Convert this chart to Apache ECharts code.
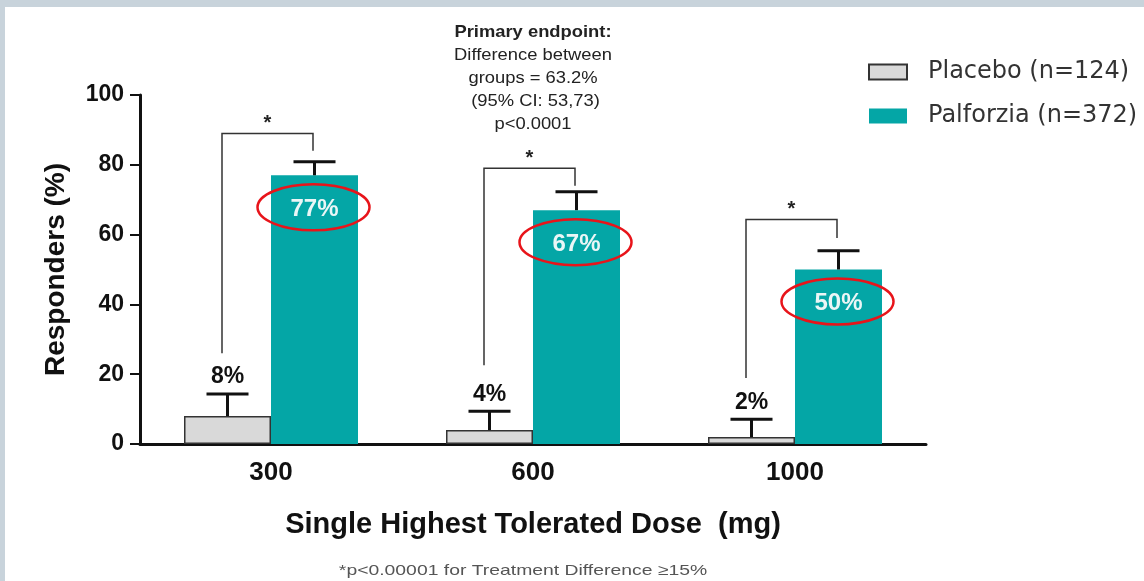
<!DOCTYPE html>
<html><head><meta charset="utf-8">
<script src="https://cdn.jsdelivr.net/npm/echarts@6/dist/echarts.min.js"></script>
<style>html,body{margin:0;padding:0;background:#fff;}#c{width:1144px;height:581px;}</style>
</head><body><div id="c"></div>
<script>
const categories = ['300', '600', '1000'];
const placebo = [8, 4, 2];
const palforzia = [77, 67, 50];
const placeboErrTop = [14.3, 9.4, 7.1];
const palforziaErrTop = [80.9, 72.3, 55.4];
const bracketLeftStart = [26, 22.6, 18.9];
const bracketTop = [89, 79, 64.3];
const bracketRightEnd = [84, 74, 59];
const yTicks = [0, 20, 40, 60, 80, 100];

const BAR_W = 87;
const FONT = 'Liberation Sans, Arial, sans-serif';

const chart = echarts.init(document.getElementById('c'));

function errData() {
  const d = [];
  categories.forEach((c, i) => {
    d.push([i, placebo[i], placeboErrTop[i], -1, placebo[i] + '%']);
    d.push([i, palforzia[i], palforziaErrTop[i], 1, palforzia[i] + '%']);
  });
  return d;
}

const option = {
  backgroundColor: '#fff',
  animation: false,
  textStyle: { fontFamily: FONT },
  grid: { left: 140, right: 218, top: 95, bottom: 137, containLabel: false },
  legend: {
    orient: 'vertical', left: 863, top: 52, itemWidth: 38, itemHeight: 15, itemGap: 14,
    icon: 'rect',
    textStyle: { fontSize: 24, lineHeight: 30, color: '#333', fontFamily: 'DejaVu Sans', padding: [0, 0, 0, 16] },
    data: ['Placebo (n=124)', 'Palforzia (n=372)']
  },
  xAxis: {
    type: 'category', data: categories,
    axisLine: { lineStyle: { color: '#111', width: 3 } },
    axisTick: { alignWithLabel: true, length: 10, lineStyle: { color: '#111', width: 2 } },
    axisLabel: { fontSize: 26, fontWeight: 'bold', color: '#111', margin: 16 },
    name: 'Single Highest Tolerated Dose  (mg)', nameLocation: 'middle', nameGap: 66,
    nameTextStyle: { fontSize: 29, fontWeight: 'bold', color: '#111' }
  },
  yAxis: {
    type: 'value', min: 0, max: 100, interval: 20,
    axisLine: { show: true, lineStyle: { color: '#111', width: 3 } },
    axisTick: { show: true, length: 10, lineStyle: { color: '#111', width: 2 } },
    splitLine: { show: false },
    axisLabel: { fontSize: 23, fontWeight: 'bold', color: '#111', margin: 16,
      formatter: v => yTicks.includes(v) ? String(v) : '' },
    name: 'Responders (%)', nameLocation: 'middle', nameGap: 70, nameRotate: 90,
    nameTextStyle: { fontSize: 28, fontWeight: 'bold', color: '#111' }
  },
  series: [
    {
      name: 'Placebo (n=124)', type: 'bar', data: placebo, barWidth: BAR_W, barGap: '0%',
      itemStyle: { color: '#d9d9d9', borderColor: '#333', borderWidth: 1.5 }, z: 2
    },
    {
      name: 'Palforzia (n=372)', type: 'bar', data: palforzia, barWidth: BAR_W, barGap: '0%',
      itemStyle: { color: '#04a6a6' }, z: 2,
      label: { show: true, position: 'insideTop', distance: 22, formatter: '{c}%',
        color: '#eaf6f6', fontSize: 24, fontWeight: 'bold', fontFamily: FONT }
    },
    {
      type: 'custom', data: errData(), z: 5,
      renderItem: function (params, api) {
        const i = api.value(0), side = api.value(3);
        const c = api.coord([i, 0]);
        const x = c[0] + side * BAR_W / 2;
        const yTop = api.coord([i, api.value(1)])[1];
        const yErr = api.coord([i, api.value(2)])[1];
        const ch = [
          { type: 'line', shape: { x1: x, y1: yTop, x2: x, y2: yErr }, style: { stroke: '#111', lineWidth: 3 } },
          { type: 'line', shape: { x1: x - 21, y1: yErr, x2: x + 21, y2: yErr }, style: { stroke: '#111', lineWidth: 3 } }
        ];
        if (side < 0) {
          ch.push({ type: 'text', style: { text: api.value(4), x: x, y: yErr - 17, align: 'center', verticalAlign: 'middle',
            font: 'bold 23px ' + FONT, fill: '#111' } });
        } else {
          ch.push({ type: 'ellipse', shape: { cx: x - 1, cy: yTop + 32, rx: 56, ry: 23 },
            style: { fill: 'none', stroke: '#e8141a', lineWidth: 2.5 } });
        }
        return { type: 'group', children: ch };
      }
    },
    {
      type: 'custom', z: 4,
      data: categories.map((c, i) => [i, bracketLeftStart[i], bracketTop[i], bracketRightEnd[i]]),
      renderItem: function (params, api) {
        const i = api.value(0);
        const cx = api.coord([i, 0])[0];
        const xl = cx - 49, xr = cx + 42;
        const y1 = api.coord([i, api.value(1)])[1];
        const yt = api.coord([i, api.value(2)])[1];
        const y2 = api.coord([i, api.value(3)])[1];
        return { type: 'group', children: [
          { type: 'polyline', shape: { points: [[xl, y1], [xl, yt], [xr, yt], [xr, y2]] },
            style: { stroke: '#333', lineWidth: 1.5, fill: 'none' } },
          { type: 'text', style: { text: '*', x: (xl + xr) / 2, y: yt - 10, align: 'center', verticalAlign: 'middle',
            font: 'bold 20px ' + FONT, fill: '#222' } }
        ] };
      }
    }
  ],
  graphic: [
    { type: 'rect', left: 0, top: 0, shape: { width: 1144, height: 7 }, style: { fill: '#c8d3db' }, silent: true },
    { type: 'rect', left: 0, top: 0, shape: { width: 5, height: 581 }, style: { fill: '#c8d3db' }, silent: true },
    { type: 'text', x: 533, y: 21, scaleX: 1.08, style: {
        x: 0, y: 0,
        text: '{b|Primary endpoint:}\n{n|Difference between}\n{n|groups = 63.2%}\n{n| (95% CI: 53,73)}\n{n|p<0.0001}',
        align: 'center', verticalAlign: 'top',
        rich: {
          b: { font: 'bold 17px ' + FONT, fill: '#222', lineHeight: 23, align: 'center' },
          n: { font: '17px ' + FONT, fill: '#222', lineHeight: 23, align: 'center' }
        } } },
    { type: 'text', x: 523, y: 571, scaleX: 1.29, style: { text: '*p<0.00001 for Treatment Difference \u226515%', x: 0, y: 0,
        align: 'center', verticalAlign: 'middle', font: '15px ' + FONT, fill: '#555' } }
  ]
};
chart.setOption(option);
</script></body></html>
